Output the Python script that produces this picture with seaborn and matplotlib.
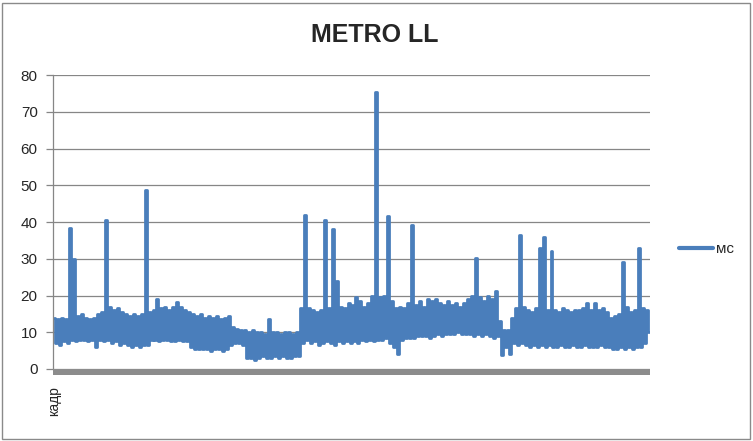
import matplotlib
matplotlib.use("Agg")
import matplotlib.pyplot as plt
import seaborn as sns
import pandas as pd
from matplotlib.patches import Rectangle

# Frame-time peaks and troughs (ms), alternating per frame pair
ms_high = [
    14.0, 13.5, 14.0, 13.5, 38.5, 30.0, 14.5, 15.0, 14.0, 13.5,
    14.0, 15.0, 15.5, 40.5, 17.0, 16.0, 16.5, 15.5, 15.0, 14.5,
    15.0, 14.5, 15.0, 48.8, 15.5, 16.0, 19.0, 16.5, 17.0, 16.0,
    17.0, 18.3, 17.0, 16.0, 15.5, 15.0, 14.5, 15.0, 14.0, 14.5,
    14.0, 14.5, 13.5, 14.0, 14.5, 11.5, 11.0, 10.5, 10.5, 10.0,
    10.5, 10.0, 10.0, 9.5, 13.5, 10.0, 10.0, 9.5, 10.0, 10.0,
    9.5, 10.0, 16.5, 42.0, 16.5, 16.0, 15.5, 16.0, 40.5, 16.5,
    38.0, 24.0, 17.0, 16.5, 18.0, 17.5, 19.5, 18.5, 17.0, 18.0,
    20.0, 75.3, 19.5, 20.0, 41.5, 18.5, 16.5, 17.0, 16.5, 18.0,
    39.3, 17.5, 18.5, 17.0, 19.0, 18.5, 19.0, 18.0, 17.5, 18.5,
    17.5, 18.0, 17.0, 18.0, 19.0, 20.0, 30.3, 19.5, 18.5, 20.0,
    19.0, 21.3, 13.0, 10.5, 10.5, 14.0, 16.5, 36.5, 17.0, 16.0,
    15.5, 16.5, 32.8, 35.8, 16.0, 32.0, 16.0, 15.5, 16.5, 16.0,
    15.5, 16.0, 16.0, 16.5, 18.0, 16.0, 18.0, 16.0, 16.5, 15.5,
    14.0, 14.5, 15.0, 29.2, 17.0, 15.5, 16.0, 33.0, 16.5, 16.0,
]
ms_low = [
    7.0, 6.5, 7.5, 7.0, 8.0, 7.5, 8.0, 8.0, 7.5, 8.0,
    6.0, 8.0, 7.5, 8.0, 7.0, 7.5, 6.5, 7.0, 6.5, 6.0,
    6.5, 6.0, 6.5, 6.5, 8.0, 8.0, 7.5, 8.0, 8.0, 7.5,
    7.5, 8.0, 7.5, 7.5, 6.0, 5.5, 5.5, 5.5, 5.5, 5.0,
    5.5, 5.5, 5.0, 5.5, 6.5, 7.0, 7.0, 6.5, 3.0, 3.0,
    2.5, 3.0, 3.5, 3.0, 3.0, 3.5, 3.0, 3.5, 3.0, 3.0,
    3.5, 3.5, 7.0, 8.0, 7.0, 7.5, 6.5, 7.0, 7.5, 7.0,
    6.5, 7.5, 7.0, 7.5, 7.0, 7.5, 7.0, 8.0, 7.5, 8.0,
    7.5, 8.0, 8.0, 8.5, 7.0, 6.0, 4.0, 8.0, 8.5, 8.5,
    8.5, 9.0, 9.0, 9.0, 8.5, 9.0, 9.5, 9.0, 9.5, 9.5,
    9.5, 10.0, 9.5, 9.5, 9.5, 9.0, 9.5, 9.0, 9.5, 9.0,
    8.5, 9.0, 3.8, 6.0, 4.0, 7.0, 6.5, 7.0, 6.5, 6.0,
    6.5, 6.0, 6.5, 6.0, 6.5, 6.0, 6.0, 6.5, 6.0, 6.0,
    6.5, 6.0, 6.0, 6.5, 6.0, 6.0, 6.0, 6.5, 6.0, 6.0,
    5.5, 5.5, 6.0, 5.5, 6.0, 5.5, 6.0, 6.0, 7.0, 10.0,
]
title = "METRO LL"
series_name = "мс"
x_label_text = "кадр"
y_ticks = [0, 10, 20, 30, 40, 50, 60, 70, 80]

ms = []
for h, l in zip(ms_high, ms_low):
    ms.append(h)
    ms.append(l)
frames = list(range(len(ms)))
df = pd.DataFrame({"frame": frames, series_name: ms})

sns.set_style("white")
plt.rcParams["font.family"] = ["Liberation Sans", "DejaVu Sans"]

W, H = 753, 441
fig = plt.figure(figsize=(W / 100, H / 100), dpi=100)
ax = fig.add_axes([53 / W, 1 - 369 / H, (650 - 53) / W, (369 - 75) / H])

blue = "#4a7ebb"
grey = "#868686"

sns.lineplot(data=df, x="frame", y=series_name, ax=ax, color=blue,
             linewidth=2.0, label=series_name, estimator=None,
             drawstyle="steps-mid")

ax.set_xlim(-0.5, len(ms) - 0.5)
ax.set_ylim(0, 80)
ax.set_yticks(y_ticks)
ax.set_yticklabels([str(t) for t in y_ticks], fontsize=11)
ax.yaxis.grid(True, color=grey, linewidth=0.9)
ax.set_axisbelow(True)
ax.tick_params(axis="y", length=5, color=grey, width=0.9, pad=6, left=True)
ax.set_xticks([0])
ax.set_xticklabels([x_label_text], rotation=90, fontsize=10)
ax.tick_params(axis="x", length=0, pad=12)
ax.set_xlabel("")
ax.set_ylabel("")
for s in ["top", "right", "bottom"]:
    ax.spines[s].set_visible(False)
ax.spines["left"].set_color(grey)
ax.spines["left"].set_linewidth(0.9)

# dense category tick band below the axis
ax.add_patch(Rectangle((0, -6 / 294), 1, 6 / 294, transform=ax.transAxes,
                       clip_on=False, color="#8c8c8c", zorder=3, linewidth=0))

leg = ax.legend(loc="center left", bbox_to_anchor=(673 / W, 1 - 249 / H),
                bbox_transform=fig.transFigure, frameon=False, fontsize=11,
                handlelength=2.2, handletextpad=0.2, borderaxespad=0)
for line in leg.get_lines():
    line.set_linewidth(3)

fig.text(375 / W, 1 - 35 / H, title, ha="center", va="center",
         fontsize=18, fontweight="bold")

fig.patches.append(Rectangle((2 / W, 2 / H), (748) / W, (436) / H,
                             transform=fig.transFigure, fill=False,
                             edgecolor="#8a8a8a", linewidth=1))

fig.savefig("out.png", dpi=100)
